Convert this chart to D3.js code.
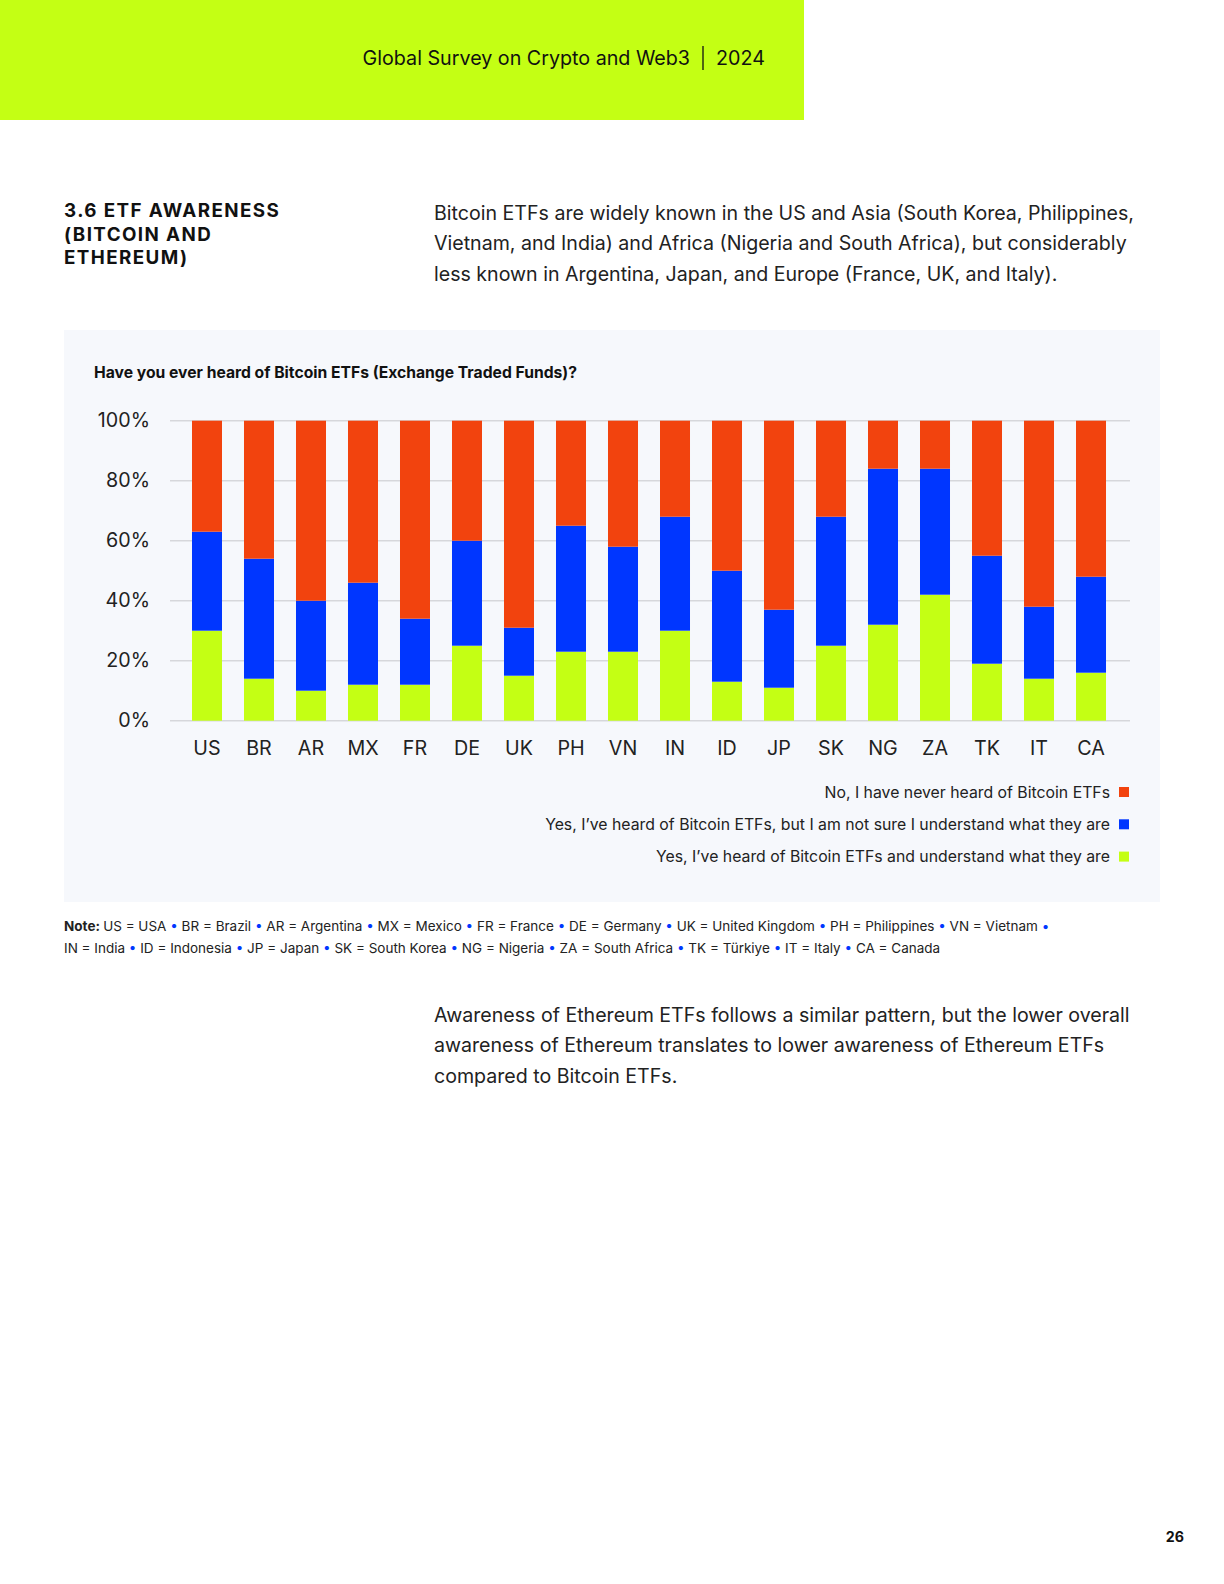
<!DOCTYPE html>
<html>
<head>
<meta charset="utf-8">
<script src="https://cdn.jsdelivr.net/npm/d3@7"></script>
<style>
  html, body { margin: 0; background: #fff; overflow: hidden; }
  svg { display: block; font-family: Inter, "Noto Sans", sans-serif; }
</style>
</head>
<body>
<svg id="page" width="1224" height="1584"></svg>
<script>
// data (percent of respondents)
var countries = ["US", "BR", "AR", "MX", "FR", "DE", "UK", "PH", "VN", "IN", "ID", "JP", "SK", "NG", "ZA", "TK", "IT", "CA"];
var understand = [30, 14, 10, 12, 12, 25, 15, 23, 23, 30, 13, 11, 25, 32, 42, 19, 14, 16];
var notSure    = [33, 40, 30, 34, 22, 35, 16, 42, 35, 38, 37, 26, 43, 52, 42, 36, 24, 32];
var neverHeard = [37, 46, 60, 54, 66, 40, 69, 35, 42, 32, 50, 63, 32, 16, 16, 45, 62, 52];
var yTicks = [0, 20, 40, 60, 80, 100];

var seriesKeys = ["understand", "notSure", "neverHeard"];
var seriesLabels = {
  neverHeard: "No, I have never heard of Bitcoin ETFs",
  notSure: "Yes, I\u2019ve heard of Bitcoin ETFs, but I am not sure I understand what they are",
  understand: "Yes, I\u2019ve heard of Bitcoin ETFs and understand what they are"
};
var colors = { understand: "#c4ff14", notSure: "#0036ff", neverHeard: "#f2430e" };

var rows = countries.map(function(c, i) {
  return { country: c, understand: understand[i], notSure: notSure[i], neverHeard: neverHeard[i] };
});

var svg = d3.select("#page");

// header band
svg.append("rect").attr("x", 0).attr("y", 0).attr("width", 804).attr("height", 120).attr("fill", "#c4ff14");
svg.append("text").attr("x", 690).attr("y", 65).attr("text-anchor", "end")
  .attr("font-size", 19.7).attr("fill", "#111").text("Global Survey on Crypto and Web3");
svg.append("line").attr("x1", 703).attr("x2", 703).attr("y1", 46).attr("y2", 70).attr("stroke", "#111").attr("stroke-width", 1.3);
svg.append("text").attr("x", 716).attr("y", 65).attr("font-size", 19.7).attr("fill", "#111").text("2024");

// section title
["3.6 ETF AWARENESS", "(BITCOIN AND", "ETHEREUM)"].forEach(function(t, i) {
  svg.append("text").attr("x", 64).attr("y", 217 + i * 23.7)
    .attr("font-size", 18.8).attr("font-weight", 700).attr("letter-spacing", 1.4)
    .attr("fill", "#111").text(t);
});

// intro paragraph
var intro = [
  "Bitcoin ETFs are widely known in the US and Asia (South Korea, Philippines,",
  "Vietnam, and India) and Africa (Nigeria and South Africa), but considerably",
  "less known in Argentina, Japan, and Europe (France, UK, and Italy)."
];
intro.forEach(function(t, i) {
  svg.append("text").attr("x", 434).attr("y", 220 + i * 30.3)
    .attr("font-size", 19.6).attr("fill", "#222").text(t);
});

// chart panel
svg.append("rect").attr("x", 64).attr("y", 330).attr("width", 1096).attr("height", 572).attr("fill", "#f6f8fc");
svg.append("text").attr("x", 94).attr("y", 378).attr("font-size", 15.7).attr("font-weight", 700)
  .attr("fill", "#111").text("Have you ever heard of Bitcoin ETFs (Exchange Traded Funds)?");

var x = d3.scaleBand().domain(countries).range([170, 1128]).paddingInner(0.423).paddingOuter(0.423);
var y = d3.scaleLinear().domain([0, 100]).range([720.7, 420.7]);

// gridlines + y labels
var grid = svg.append("g");
grid.selectAll("line").data(yTicks).enter().append("line")
  .attr("x1", 170).attr("x2", 1130)
  .attr("y1", function(d) { return y(d); }).attr("y2", function(d) { return y(d); })
  .attr("stroke", "#d6d7db").attr("stroke-width", 1.6);
grid.selectAll("text").data(yTicks).enter().append("text")
  .attr("x", 150).attr("y", function(d) { return y(d); }).attr("dy", "0.3em")
  .attr("text-anchor", "end").attr("font-size", 19.7).attr("fill", "#222")
  .text(function(d) { return d + "%"; });

// stacked bars
var stack = d3.stack().keys(seriesKeys);
var layers = svg.append("g").selectAll("g").data(stack(rows)).enter().append("g")
  .attr("fill", function(d) { return colors[d.key]; });
layers.selectAll("rect").data(function(d) { return d; }).enter().append("rect")
  .attr("x", function(d) { return x(d.data.country); })
  .attr("width", x.bandwidth())
  .attr("y", function(d) { return y(d[1]); })
  .attr("height", function(d) { return y(d[0]) - y(d[1]); });

// x labels
var xAxis = svg.append("g").attr("transform", "translate(0," + y(0) + ")")
  .call(d3.axisBottom(x).tickSize(0).tickPadding(20));
xAxis.select(".domain").remove();
xAxis.selectAll("text").attr("font-size", 19.7).attr("fill", "#222").attr("font-family", "Inter, sans-serif");

// legend
var legendOrder = ["neverHeard", "notSure", "understand"];
var legend = svg.append("g").selectAll("g").data(legendOrder).enter().append("g")
  .attr("transform", function(d, i) { return "translate(0," + (792 + i * 32.3) + ")"; });
legend.append("rect").attr("x", 1119).attr("y", -5).attr("width", 10).attr("height", 10)
  .attr("fill", function(d) { return colors[d]; });
legend.append("text").attr("x", 1110).attr("dy", "0.35em").attr("text-anchor", "end")
  .attr("font-size", 15.8).attr("fill", "#222").text(function(d) { return seriesLabels[d]; });

// note lines
var noteLines = [
  ["US = USA", "BR = Brazil", "AR = Argentina", "MX = Mexico", "FR = France", "DE = Germany", "UK = United Kingdom", "PH = Philippines", "VN = Vietnam", ""],
  ["IN = India", "ID = Indonesia", "JP = Japan", "SK = South Korea", "NG = Nigeria", "ZA = South Africa", "TK = T\u00fcrkiye", "IT = Italy", "CA = Canada"]
];
noteLines.forEach(function(parts, li) {
  var t = svg.append("text").attr("x", 64).attr("y", 931 + li * 22.2).attr("font-size", 13.5).attr("fill", "#222");
  if (li === 0) t.append("tspan").attr("font-weight", 700).text("Note: ");
  parts.forEach(function(p, i) {
    if (i > 0) t.append("tspan").attr("fill", "#0036ff").text(" \u2022 ");
    if (p) t.append("tspan").text(p);
  });
});

// closing paragraph
var outro = [
  "Awareness of Ethereum ETFs follows a similar pattern, but the lower overall",
  "awareness of Ethereum translates to lower awareness of Ethereum ETFs",
  "compared to Bitcoin ETFs."
];
outro.forEach(function(t, i) {
  svg.append("text").attr("x", 434).attr("y", 1022 + i * 30.3)
    .attr("font-size", 19.6).attr("fill", "#222").text(t);
});

svg.append("text").attr("x", 1184).attr("y", 1542).attr("text-anchor", "end")
  .attr("font-size", 14.2).attr("font-weight", 700).attr("fill", "#111").text("26");
</script>
</body>
</html>
